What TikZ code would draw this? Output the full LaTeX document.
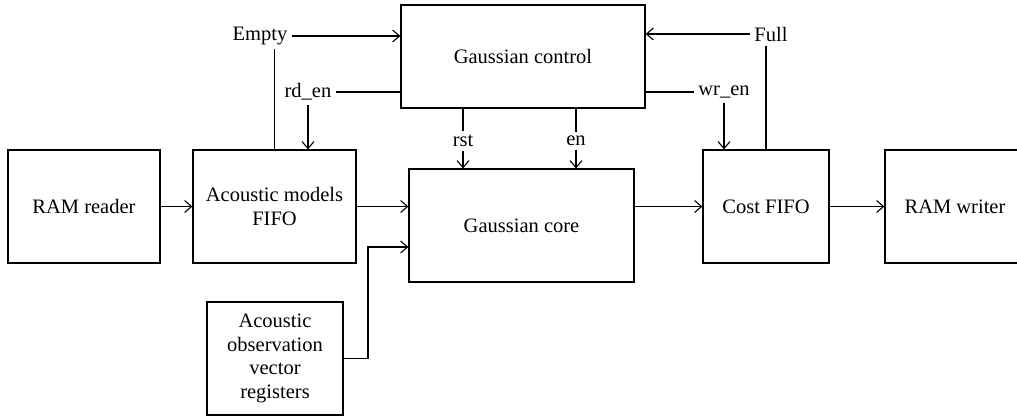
\documentclass[tikz,border=0pt]{standalone}
\usepackage{fontspec}
\setmainfont{Liberation Serif}
\usetikzlibrary{arrows.meta}

\begin{document}
\begin{tikzpicture}[x=1pt,y=-1pt,line width=1.1pt,
  font=\fontsize{20.5}{23.5}\selectfont,
  block/.style={draw,line width=1.2pt,align=center,inner sep=0pt},
  sig/.style={inner sep=4pt},
  flow/.style={-{Straight Barb[length=7pt,width=12pt]}}]
\useasboundingbox (0,0) rectangle (1017,416);
\begin{scope}
\clip (0,0) rectangle (1017,416);
\node [block,minimum width=152,minimum height=113] (reader) at (84,206.5) {RAM reader};
\node [block,minimum width=163,minimum height=113] (amfifo) at (274.5,206.5) {Acoustic models\\FIFO};
\node [block,minimum width=244,minimum height=103] (gctrl) at (523,56.5) {Gaussian control};
\node [block,minimum width=225,minimum height=113] (gcore) at (521.5,225.5) {Gaussian core};
\node [block,minimum width=126,minimum height=113] (cfifo) at (766,206.5) {Cost FIFO};
\node [block,minimum width=140,minimum height=113] (writer) at (955,206.5) {RAM writer};
\node [block,minimum width=136,minimum height=113] (obsreg) at (275,358.5) {Acoustic\\observation\\vector\\registers};
\end{scope}

\node [sig] (empty) at (260,36) {Empty};
\node [sig] (rden) at (308,92) {rd\_en};
\node [sig] (rst) at (463,141) {rst};
\node [sig] (en) at (576,141) {en};
\node [sig] (full) at (771,34) {Full};
\node [sig] (wren) at (724,92) {wr\_en};
\coordinate (bend) at (368,247);

\draw [flow] (empty.east) -- (gctrl.west |- empty.east);
\draw (amfifo.north) -- (amfifo.north |- empty.south);
\draw (rden.east) -- (gctrl.west |- rden.east);
\draw [flow] (rden.south) -- (rden.south |- amfifo.north);
\draw (gctrl.south -| rst) -- (rst.north);
\draw [flow] (rst.south) -- (rst.south |- gcore.north);
\draw (gctrl.south -| en) -- (en.north);
\draw [flow] (en.south) -- (en.south |- gcore.north);
\draw [flow] (full.west) -- (gctrl.east |- full.west);
\draw (cfifo.north) -- (cfifo.north |- full.south);
\draw (gctrl.east |- wren.west) -- (wren.west);
\draw [flow] (wren.south) -- (wren.south |- cfifo.north);

\draw [flow] (reader.east) -- (amfifo.west);
\draw [flow] (amfifo.east) -- (gcore.west |- amfifo.east);
\draw [flow] (obsreg.east) -| (bend) -- (gcore.west |- bend);
\draw [flow] (gcore.east |- cfifo.west) -- (cfifo.west);
\draw [flow] (cfifo.east) -- (writer.west);
\end{tikzpicture}
\end{document}
